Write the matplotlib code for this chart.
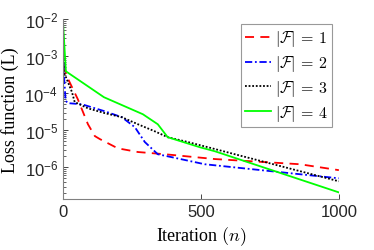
import numpy as np
import matplotlib
matplotlib.use("Agg")
import matplotlib.pyplot as plt
from matplotlib.ticker import FixedLocator, FuncFormatter, LogLocator, NullFormatter

plt.rcParams['mathtext.fontset'] = 'cm'
plt.rcParams['font.family'] = 'Liberation Sans'

# values (iteration, log10 loss)
n_1 = [0, 3, 14, 54, 91, 116, 134, 199, 272, 370, 551, 859, 1000]
L_1 = [-2, -3.2, -3.54, -4.16, -4.84, -5.16, -5.24, -5.49, -5.59, -5.65, -5.78, -5.92, -6.08]

n_2 = [0, 4, 10, 18, 69, 152, 214, 261, 297, 344, 395, 514, 1000]
L_2 = [-2, -3.5, -4.2, -4.27, -4.30, -4.49, -4.65, -4.92, -5.32, -5.65, -5.73, -5.92, -6.30]

n_3 = [0, 4, 7, 33, 43, 91, 152, 214, 272, 333, 380, 453, 551, 1000]
L_3 = [-2, -3.45, -3.49, -3.97, -4.24, -4.41, -4.54, -4.65, -4.84, -5.03, -5.19, -5.32, -5.51, -6.38]

n_4 = [0, 11, 149, 290, 344, 380, 496, 551, 1000]
L_4 = [-2, -3.41, -4.11, -4.57, -4.84, -5.19, -5.46, -5.57, -6.68]

labels = [r'$|\mathcal{F}|\,=\,1$', r'$|\mathcal{F}|\,=\,2$', r'$|\mathcal{F}|\,=\,3$', r'$|\mathcal{F}|\,=\,4$']

fig = plt.figure(figsize=(3.74, 2.51), dpi=100)
ax = fig.add_axes([0.168, 0.203, 0.738, 0.717])

ax.plot(n_1, 10.0 ** np.array(L_1), color='#FF0000', lw=1.3, dashes=(5, 3.5), label=labels[0])
ax.plot(n_2, 10.0 ** np.array(L_2), color='#0000FF', lw=1.3, dashes=(4, 1.5, 1, 1.5), label=labels[1])
ax.plot(n_3, 10.0 ** np.array(L_3), color='black', lw=1.3, dashes=(1, 1), label=labels[2])
ax.plot(n_4, 10.0 ** np.array(L_4), color='#00FF00', lw=1.3, label=labels[3])

ax.set_yscale('log')
ax.set_xlim(0, 1000)
ax.set_ylim(10 ** -6.86, 1e-2)
ax.xaxis.set_major_locator(FixedLocator([0, 500, 1000]))
ax.yaxis.set_major_locator(FixedLocator([1e-6, 1e-5, 1e-4, 1e-3, 1e-2]))
ax.yaxis.set_major_formatter(FuncFormatter(lambda v, p: r'$\mathregular{10^{%d}}$' % round(np.log10(v))))
ax.yaxis.set_minor_locator(LogLocator(base=10, subs=np.arange(2, 10)))
ax.yaxis.set_minor_formatter(NullFormatter())
ax.tick_params(which='both', direction='in', colors='#262626', labelsize=12)
ax.tick_params(which='major', length=3.5, width=0.6)
ax.tick_params(which='minor', length=2, width=0.5)
for s in ['top', 'right']:
    ax.spines[s].set_visible(False)
for s in ['left', 'bottom']:
    ax.spines[s].set_color('#808080')
    ax.spines[s].set_linewidth(0.8)

ax.set_xlabel(r'Iteration $(n)$', fontsize=13, family='Liberation Serif')
ax.set_ylabel('Loss function (L)', fontsize=13, family='Liberation Serif')

leg = ax.legend(loc='upper right', bbox_to_anchor=(0.975, 0.97), fontsize=11.5,
                frameon=True, fancybox=False, handlelength=1.6, handletextpad=0.3,
                labelspacing=0.3, borderpad=0.25, borderaxespad=0)
leg.get_frame().set_edgecolor('#808080')
leg.get_frame().set_linewidth(0.8)

fig.savefig('out.png', dpi=100)
